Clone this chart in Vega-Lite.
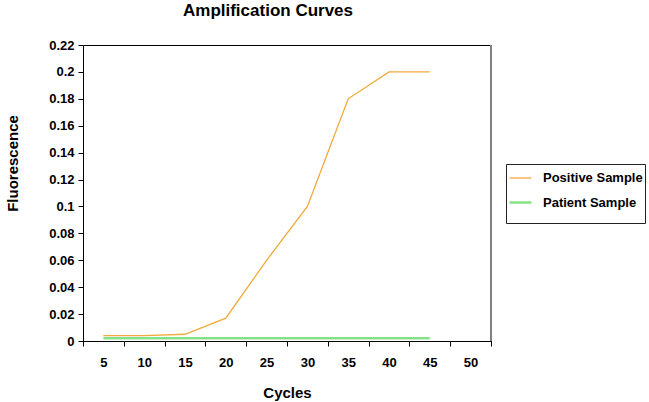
{
  "$schema": "https://vega.github.io/schema/vega-lite/v6.json",
  "width": 408,
  "height": 296,
  "autosize": "none",
  "padding": {"left": 83, "top": 45, "right": 158, "bottom": 61},
  "background": "white",
  "config": {
    "font": "Liberation Sans",
    "view": {"stroke": "#000000", "strokeWidth": 1}
  },
  "title": {
    "text": "Amplification Curves",
    "font": "Liberation Sans",
    "fontSize": 17,
    "fontWeight": "bold",
    "color": "#000000",
    "anchor": "middle",
    "dx": -19,
    "offset": 19
  },
  "data": {
    "values": [
      {"cycle": 5, "value": 0.004, "series": "Positive Sample"},
      {"cycle": 10, "value": 0.004, "series": "Positive Sample"},
      {"cycle": 15, "value": 0.005, "series": "Positive Sample"},
      {"cycle": 20, "value": 0.017, "series": "Positive Sample"},
      {"cycle": 25, "value": 0.06, "series": "Positive Sample"},
      {"cycle": 30, "value": 0.1, "series": "Positive Sample"},
      {"cycle": 35, "value": 0.18, "series": "Positive Sample"},
      {"cycle": 40, "value": 0.2, "series": "Positive Sample"},
      {"cycle": 45, "value": 0.2, "series": "Positive Sample"},
      {"cycle": 5, "value": 0.002, "series": "Patient Sample"},
      {"cycle": 10, "value": 0.002, "series": "Patient Sample"},
      {"cycle": 15, "value": 0.002, "series": "Patient Sample"},
      {"cycle": 20, "value": 0.002, "series": "Patient Sample"},
      {"cycle": 25, "value": 0.002, "series": "Patient Sample"},
      {"cycle": 30, "value": 0.002, "series": "Patient Sample"},
      {"cycle": 35, "value": 0.002, "series": "Patient Sample"},
      {"cycle": 40, "value": 0.002, "series": "Patient Sample"},
      {"cycle": 45, "value": 0.002, "series": "Patient Sample"}
    ]
  },
  "layer": [
    {
      "mark": {"type": "line", "clip": true},
      "encoding": {
        "x": {
          "field": "cycle",
          "type": "ordinal",
          "scale": {"domain": [5, 10, 15, 20, 25, 30, 35, 40, 45, 50], "paddingInner": 0, "paddingOuter": 0},
          "axis": {
            "title": "Cycles",
            "titleFont": "Liberation Sans",
            "titleFontSize": 15,
            "titleFontWeight": "bold",
            "titleColor": "#000000",
            "titlePadding": 16,
            "labelAngle": 0,
            "tickBand": "extent",
            "tickSize": 5,
            "tickColor": "#000000",
            "labelPadding": 10,
            "labelFont": "Liberation Sans",
            "labelFontSize": 13,
            "labelFontWeight": "bold",
            "labelColor": "#000000",
            "labelOverlap": false,
            "domainColor": "#000000",
            "grid": false
          }
        },
        "y": {
          "field": "value",
          "type": "quantitative",
          "scale": {"domain": [0, 0.22], "nice": false},
          "axis": {
            "title": "Fluorescence",
            "titleFont": "Liberation Sans",
            "titleFontSize": 15,
            "titleFontWeight": "bold",
            "titleColor": "#000000",
            "titlePadding": 28,
            "titleY": 118,
            "values": [0, 0.02, 0.04, 0.06, 0.08, 0.1, 0.12, 0.14, 0.16, 0.18, 0.2, 0.22],
            "format": "~g",
            "tickSize": 5,
            "tickColor": "#000000",
            "labelPadding": 4,
            "labelFont": "Liberation Sans",
            "labelFontSize": 13,
            "labelFontWeight": "bold",
            "labelColor": "#000000",
            "labelFlush": false,
            "labelOverlap": false,
            "domainColor": "#000000",
            "grid": false
          }
        },
        "color": {
          "field": "series",
          "type": "nominal",
          "scale": {"domain": ["Positive Sample", "Patient Sample"], "range": ["#F2A93B", "#86E286"]},
          "legend": {
            "title": " ",
            "titleOrient": "bottom",
            "titleFontSize": 9,
            "titlePadding": 2,
            "orient": "none",
            "legendX": 423,
            "legendY": 119,
            "strokeColor": "#222222",
            "fillColor": "#ffffff",
            "padding": 2,
            "rowPadding": 5,
            "symbolType": "stroke",
            "symbolSize": 484,
            "symbolStrokeWidth": 1.5,
            "labelFont": "Liberation Sans",
            "labelFontSize": 13,
            "labelFontWeight": "bold",
            "labelColor": "#000000",
            "labelOffset": 10,
            "labelLimit": 200
          }
        },
        "strokeWidth": {
          "field": "series",
          "type": "nominal",
          "scale": {"domain": ["Positive Sample", "Patient Sample"], "range": [1.3, 2.5]},
          "legend": null
        }
      }
    },
    {
      "mark": {"type": "rule", "color": "#808080", "strokeWidth": 2},
      "encoding": {"x": {"datum": 50, "type": "ordinal", "bandPosition": 1}}
    }
  ]
}
